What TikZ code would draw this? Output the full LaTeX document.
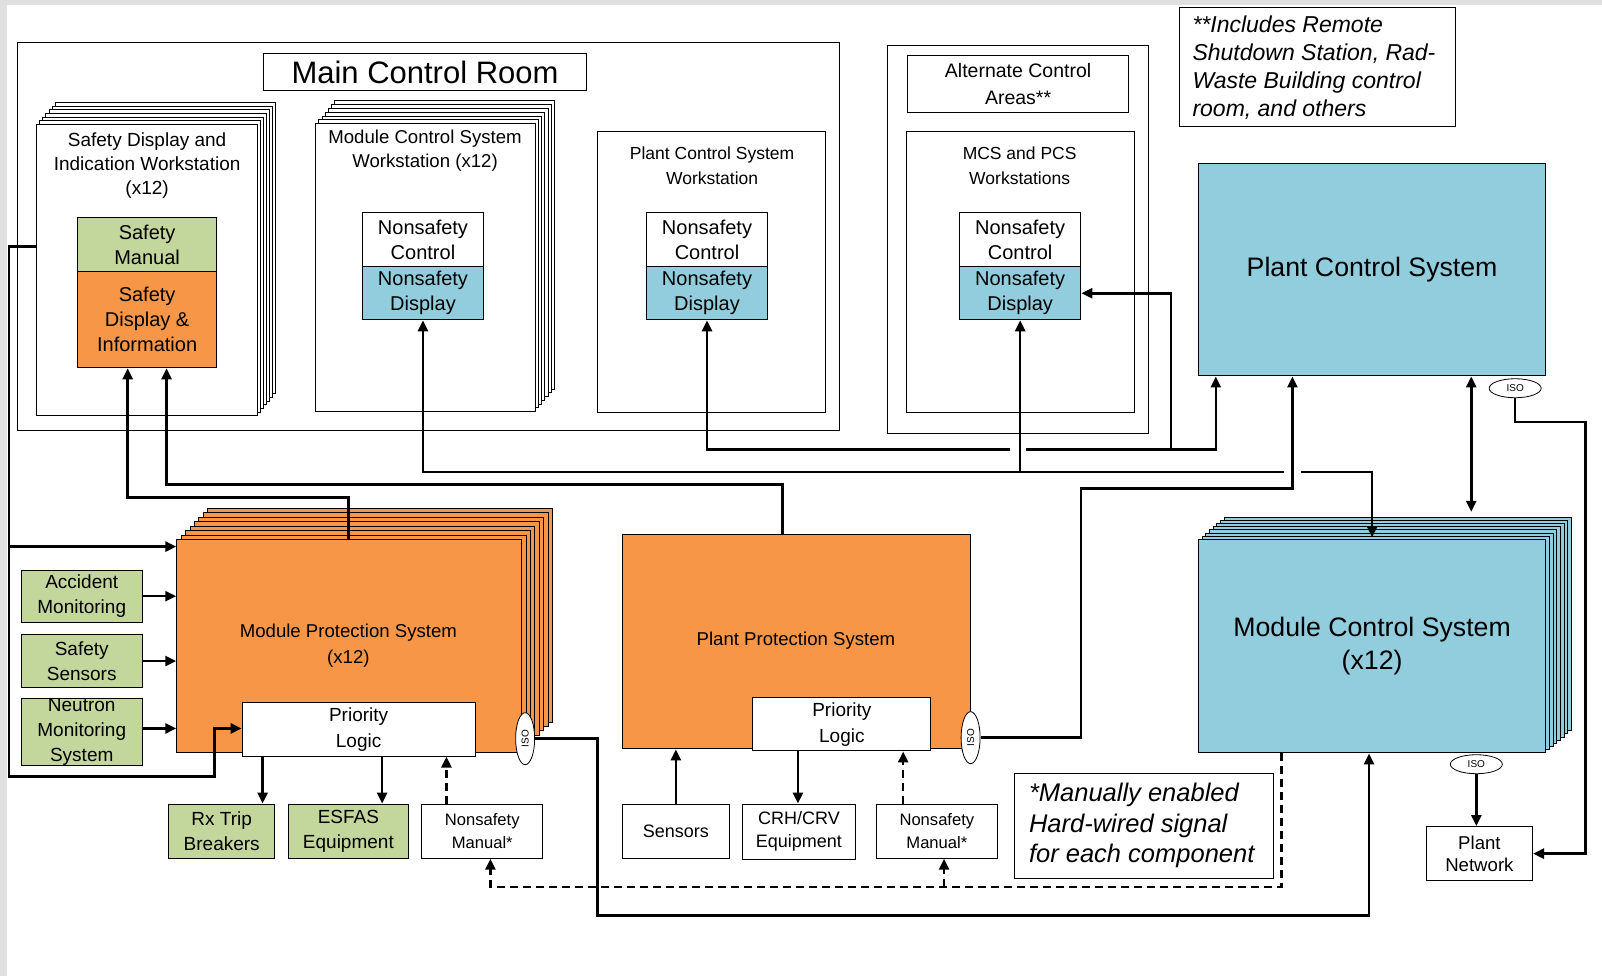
\documentclass[tikz,border=0pt]{standalone}
\usepackage{fontspec}
\setmainfont{Liberation Sans}
\usetikzlibrary{arrows.meta,shapes.geometric}

\definecolor{safeorange}{RGB}{247,150,70}
\definecolor{safegreen}{RGB}{195,214,155}
\definecolor{nsblue}{RGB}{146,205,221}

\tikzset{
  plainbox/.style={draw, line width=1pt, fill=white, inner sep=0pt, align=center},
  greenbox/.style={plainbox, fill=safegreen},
  orangebox/.style={plainbox, fill=safeorange},
  bluebox/.style={plainbox, fill=nsblue},
  sz/.style 2 args={minimum width={#1*1.0217pt}, minimum height={#2*1.0217pt}},
  lbl/.style={align=center, inner sep=0pt},
  iso/.style={draw, line width=0.8pt, fill=white, ellipse, inner sep=0pt,
    minimum width=52pt, minimum height=19pt, font=\fontsize{10}{10}\selectfont},
  wire/.style={line width=2.6pt},
  arr/.style={wire, -{Triangle[length=11pt,width=10pt]}},
  arrs/.style={wire, {Triangle[length=11pt,width=10pt]}-{Triangle[length=11pt,width=10pt]}},
  darr/.style={arr, dash pattern=on 8pt off 5pt},
}

\begin{document}
\begin{tikzpicture}[x=1.0217pt, y=-1.0217pt, font=\fontsize{18.6}{24}\selectfont]
  \useasboundingbox (0,0) rectangle (1568,955);
  \fill[white] (0,0) rectangle (1568,955);
  \fill[black!12] (0,0) rectangle (1568,5);
  \fill[black!12] (0,0) rectangle (7,955);

  % main control room
  \node[plainbox, sz={805}{379}] (mcr) at (419.5,231.5) {};
  \node[plainbox, sz={316}{37}, font=\fontsize{31}{31}\selectfont] (mcrtitle) at (416,70.5) {Main Control Room};

  \foreach \k in {6,...,1}
    \draw[fill=white, line width=1pt] ({36+3*\k},{122-3.6*\k}) rectangle ({252+3*\k},{407-3.6*\k});
  \node[plainbox, sz={216}{285}] (sdiw) at (144,264.5) {};
  \node[lbl, font=\fontsize{19}{24}\selectfont] (sdiwtext) at (144,162) {Safety Display and\\Indication Workstation\\(x12)};
  \node[greenbox, sz={136}{53}, font=\fontsize{20}{25}\selectfont] (sman) at (144,239.5) {Safety\\Manual};
  \node[orangebox, sz={136}{94}, font=\fontsize{20}{25}\selectfont] (sdi) at (144,313) {Safety\\Display \&\\Information};

  \foreach \k in {6,...,1}
    \draw[fill=white, line width=1pt] ({309+3.1*\k},{121-3.7*\k}) rectangle ({524+3.1*\k},{403-3.7*\k});
  \node[plainbox, sz={215}{282}] (mcsw) at (416.5,262) {};
  \node[lbl] (mcswtext) at (416,147) {Module Control System\\Workstation (x12)};
  \node[plainbox, sz={118}{53}, font=\fontsize{20}{25}\selectfont] (nc1) at (414,234.5) {Nonsafety\\Control};
  \node[bluebox, sz={118}{52}, font=\fontsize{20}{25}\selectfont] (nd1) at (414,287) {Nonsafety\\Display};

  \node[plainbox, sz={223}{275}] (pcsw) at (696.5,266.5) {};
  \node[lbl, font=\fontsize{17.5}{25}\selectfont] (pcswtext) at (697,162) {Plant Control System\\Workstation};
  \node[plainbox, sz={118}{53}, font=\fontsize{20}{25}\selectfont] (nc2) at (692,234.5) {Nonsafety\\Control};
  \node[bluebox, sz={118}{52}, font=\fontsize{20}{25}\selectfont] (nd2) at (692,287) {Nonsafety\\Display};

  % alternate areas
  \node[plainbox, sz={255}{379}] (alt) at (996.5,234.5) {};
  \node[plainbox, sz={217}{56}, font=\fontsize{19.5}{27.5}\selectfont] (alttitle) at (996.5,82) {Alternate Control\\Areas**};
  \node[plainbox, sz={223}{275}] (mpw) at (998.5,266.5) {};
  \node[lbl, font=\fontsize{17.5}{25}\selectfont] (mpwtext) at (998,162) {MCS and PCS\\Workstations};
  \node[plainbox, sz={119}{53}, font=\fontsize{20}{25}\selectfont] (nc3) at (998.5,234.5) {Nonsafety\\Control};
  \node[bluebox, sz={119}{52}, font=\fontsize{20}{25}\selectfont] (nd3) at (998.5,287) {Nonsafety\\Display};

  \node[plainbox, sz={271}{117}] (altnote) at (1289.5,65.5) {};
  \node[lbl, align=left, anchor=west, font=\fontsize{23}{28}\selectfont\itshape] (altnotetext) at (1167,66)
    {**Includes Remote\\Shutdown Station, Rad-\\Waste Building control\\room, and others};

  % control systems
  \node[bluebox, sz={340}{208}, font=\fontsize{26.7}{32}\selectfont] (pcs) at (1343,264) {Plant Control System};
  \node[iso] (pcsiso) at (1483,380) {ISO};

  \foreach \k in {7,...,1}
    \draw[fill=nsblue, line width=1pt] ({1173+3.6*\k},{528-3.1*\k}) rectangle ({1513+3.6*\k},{737-3.1*\k});
  \node[bluebox, sz={340}{209}, font=\fontsize{26.7}{32.5}\selectfont] (mcs) at (1343,632.5) {Module Control System\\(x12)};
  \node[iso] (mcsiso) at (1445,748) {ISO};
  \node[plainbox, sz={104}{53}, font=\fontsize{18.6}{22.5}\selectfont] (net) at (1448,835.5) {Plant\\Network};

  % module protection
  \foreach \k in {7,...,1}
    \draw[fill=safeorange, line width=0.9pt] ({173+4.33*\k},{528-4.33*\k}) rectangle ({510.6+4.33*\k},{737-4.33*\k});
  \node[orangebox, sz={337.6}{209}] (mps) at (341.8,632.5) {};
  \node[lbl, font=\fontsize{18.6}{25.5}\selectfont] (mpstext) at (341,632) {Module Protection System\\(x12)};
  \node[plainbox, sz={228}{52}, font=\fontsize{19}{25.5}\selectfont] (pl1) at (351,714) {Priority\\Logic};
  \node[iso, rotate=90] (mpsiso) at (514,723) {ISO};

  \node[greenbox, sz={118}{51}, font=\fontsize{19}{25}\selectfont] (acc) at (80,583.5) {Accident\\Monitoring};
  \node[greenbox, sz={118}{52}, font=\fontsize{19}{25}\selectfont] (sens) at (80,647) {Safety\\Sensors};
  \node[greenbox, sz={118}{65}] (neut) at (80,716.5) {};
  \node[lbl, font=\fontsize{19}{25}\selectfont] (neuttext) at (80,716) {Neutron\\Monitoring\\System};

  \node[greenbox, sz={104}{53}, font=\fontsize{19}{25}\selectfont] (rx) at (217,813.5) {Rx Trip\\Breakers};
  \node[greenbox, sz={118}{53}, font=\fontsize{19}{25}\selectfont] (esfas) at (341,813.5) {ESFAS\\Equipment};
  \node[plainbox, sz={118}{53}, font=\fontsize{16.6}{23}\selectfont] (nm1) at (472,813.5) {Nonsafety\\Manual*};

  % plant protection
  \node[orangebox, sz={341}{210}] (pps) at (779.5,628) {};
  \node[lbl] (ppstext) at (779,627) {Plant Protection System};
  \node[plainbox, sz={174}{52}, font=\fontsize{19}{25.5}\selectfont] (pl2) at (824,709) {Priority\\Logic};
  \node[iso, rotate=90] (ppsiso) at (950,722) {ISO};

  \node[plainbox, sz={105}{53}, font=\fontsize{18}{23}\selectfont] (sns) at (661.5,813.5) {Sensors};
  \node[plainbox, sz={110}{54}, font=\fontsize{18}{23}\selectfont] (crh) at (782,814) {CRH/CRV\\Equipment};
  \node[plainbox, sz={118}{53}, font=\fontsize{16.6}{23}\selectfont] (nm2) at (917,813.5) {Nonsafety\\Manual*};

  \node[plainbox, sz={253}{103}] (mannote) at (1119.5,808.5) {};
  \node[lbl, align=left, anchor=west, font=\fontsize{25.5}{30.7}\selectfont\itshape] (mannotetext) at (1007,808)
    {*Manually enabled\\Hard-wired signal\\for each component};

  % nonsafety display buses
  \draw[arrs] (nd1.south) |- (1343,462) -- (1343,526);
  \draw[arrs] (nd2.south) |- (1190,440) -- (pcs.south -| 1190,0);
  \draw[white, line width=4pt] (989,440) -- (1004,440);
  \draw[arr] (nd3.south |- 0,462) -- (nd3.south);
  \draw[arr] (1146,440) |- (nd3.east |- 0,287);
  \draw[white, line width=4pt] (1257,462) -- (1273,462);
  \draw[arr] (ppsiso.south) -| (1058,478) -| (pcs.south -| 1265,0);
  \draw[arrs] (pcs.south -| 1440,0) -- (1440,501);
  \draw[arr] (pcsiso.south) |- (1552,413) |- (net.east);
  \draw[arr] (mcsiso.south) -- (mcsiso.south |- net.north);
  \draw[arr] (mpsiso.south) -| (585,896) -| (mcs.south -| 1340,0);

  % manual signals
  \draw[darr] (mcs.south -| 1254,0) |- (480,868) -- (nm1.south -| 480,0);
  \draw[darr] (924,868) -- (nm2.south -| 924,0);
  \draw[darr] (nm1.north -| 437,0) -- (pl1.south -| 437,0);
  \draw[darr] (nm2.north -| 884,0) -- (pl2.south -| 884,0);

  % safety signals
  \draw[arr] (sdiw.west |- 0,241) -| (9,760) -| (210,713) -- (pl1.west |- 0,713);
  \draw[arr] (9,535) -- (mps.west |- 0,535);
  \draw[arr] (mps.north -| 341,0) |- (125,487) -- (sdi.south -| 125,0);
  \draw[arr] (pps.north -| 766,0) |- (163,474) -- (sdi.south -| 163,0);
  \draw[arr] (acc.east) -- (mps.west |- acc.east);
  \draw[arr] (sens.east) -- (mps.west |- sens.east);
  \draw[arr] (neut.east |- 0,713) -- (mps.west |- 0,713);
  \draw[arr] (pl1.south -| 257,0) -- (rx.north -| 257,0);
  \draw[arr] (pl1.south -| 374,0) -- (esfas.north -| 374,0);
  \draw[arr] (pl2.south -| 781,0) -- (crh.north -| 781,0);
  \draw[arr] (sns.north) -- (pps.south -| sns.north);
\end{tikzpicture}
\end{document}
